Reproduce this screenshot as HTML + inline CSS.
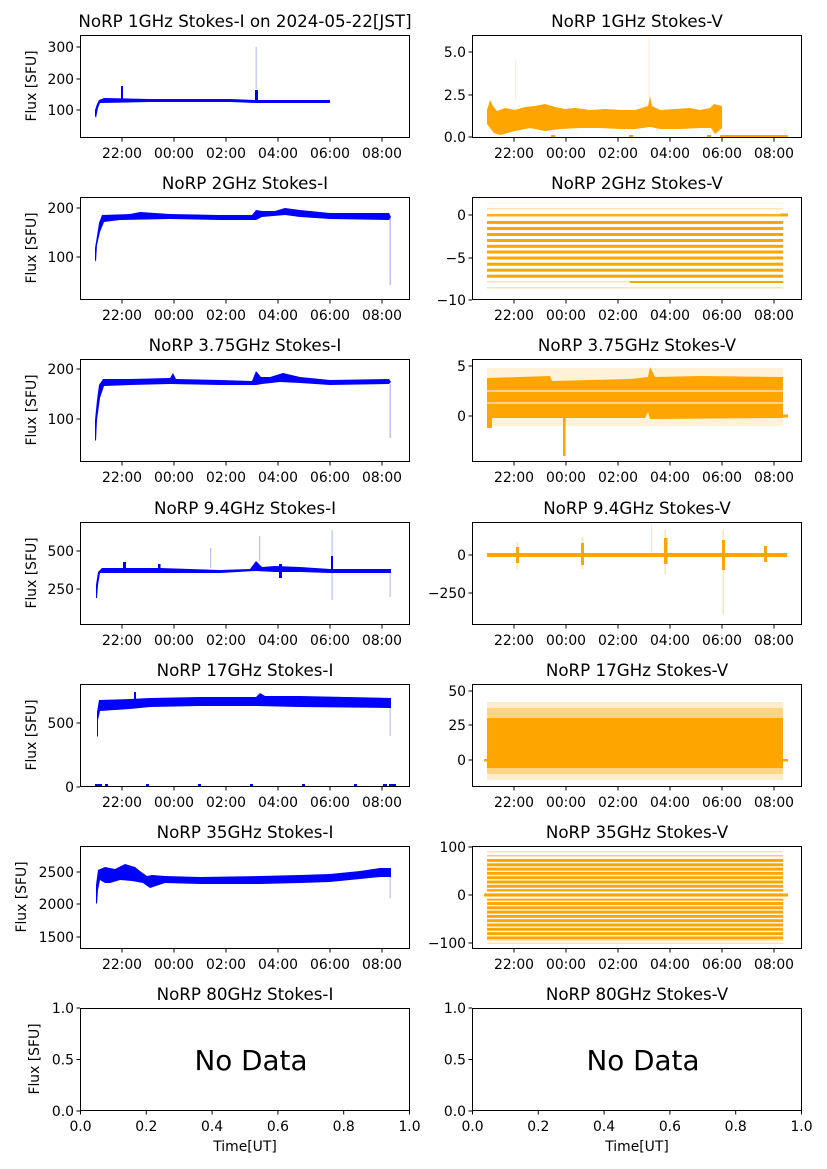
<!DOCTYPE html>
<html><head><meta charset="utf-8"><style>
html,body{margin:0;padding:0;background:#fff}
svg{display:block}
text{font-family:"DejaVu Sans","Liberation Sans",sans-serif;fill:#000}
.t{font-size:16.7px;text-anchor:middle}
.k{font-size:13.9px}
.yl{text-anchor:end}
.xl{text-anchor:middle}
.ax{fill:none;stroke:#000;stroke-width:1}
.tk{stroke:#000;stroke-width:1}
</style></head><body>
<svg width="827" height="1169" viewBox="0 0 827 1169" xmlns="http://www.w3.org/2000/svg">
<defs>
<pattern id="s35" patternUnits="userSpaceOnUse" x="0" y="859" width="10" height="4.3">
<rect x="0" y="0" width="10" height="3" fill="#ffa500"/>
</pattern>
</defs>

<!-- ===== Row 1 ===== -->
<text class="t" x="245" y="27">NoRP 1GHz Stokes-I on 2024-05-22[JST]</text>
<text class="t" x="637" y="27">NoRP 1GHz Stokes-V</text>
<g fill="#0000ff">
<path d="M95,116 L95,110 L97,104 L99,100 L104,98 L150,99 L230,99 L256,100 L330,100 L330,103 L256,103 L230,102 L150,102 L100,103 L98,108 L96,118 Z"/>
<rect x="121" y="86" width="2" height="14"/>
<rect x="255" y="90" width="3" height="10"/>
<rect x="255.5" y="47" width="1.5" height="42" opacity="0.2"/>
</g>
<g fill="#ffa500">
<path d="M487,110 L490,100 L493,106 L497,111 L505,108 L515,110 L525,107 L535,106 L545,104 L555,107 L565,109 L575,108 L590,110 L605,109 L620,110 L635,110 L648,106 L650,96 L652,106 L660,110 L675,109 L690,108 L700,110 L710,108 L714,104 L722,106 L722,128 L715,134 L711,128 L700,128 L680,129 L660,129 L650,127 L635,129 L620,129 L600,128 L580,128 L560,129 L545,131 L530,128 L515,131 L500,135 L494,133 L490,128 L487,124 Z"/>
<rect x="720" y="135" width="68" height="2.5"/>
<rect x="551" y="135" width="4" height="2.5"/><rect x="629" y="135" width="4" height="2.5"/><rect x="707" y="135" width="4" height="2.5"/>
<rect x="515" y="60" width="1.2" height="40" opacity="0.2"/>
<rect x="648.5" y="38" width="1.2" height="60" opacity="0.2"/>
</g>

<!-- ===== Row 2 ===== -->
<text class="t" x="245" y="189">NoRP 2GHz Stokes-I</text>
<text class="t" x="637" y="189">NoRP 2GHz Stokes-V</text>
<g fill="#0000ff">
<path d="M95,260 L95,248 L97,236 L99,223 L102,215 L130,214 L140,212 L170,214 L220,215 L252,215 L256,210 L262,211 L275,211 L285,208 L300,210 L330,213 L389,213 L391,217 L389,220 L330,219 L300,217 L285,215 L262,217 L256,220 L220,220 L170,219 L120,220 L104,222 L100,232 L97,245 L96,262 Z"/>
<rect x="389.5" y="218" width="1.5" height="67" opacity="0.25"/>
</g>
<g fill="#ffa500">
<rect x="487" y="214" width="296" height="2.5" opacity="0.85"/>
<rect x="487" y="221" width="296" height="3"/>
<rect x="487" y="227" width="296" height="3"/>
<rect x="487" y="233" width="296" height="3"/>
<rect x="487" y="239" width="296" height="3"/>
<rect x="487" y="244.8" width="296" height="3"/>
<rect x="487" y="250.5" width="296" height="3"/>
<rect x="487" y="256.5" width="296" height="3"/>
<rect x="487" y="262.7" width="296" height="3"/>
<rect x="487" y="268.7" width="296" height="3"/>
<rect x="487" y="274.7" width="296" height="3"/>
<rect x="630" y="281" width="153" height="2"/>
<rect x="487" y="281" width="143" height="1.5" opacity="0.3"/>
<rect x="487" y="287" width="296" height="1.5" opacity="0.3"/>
<rect x="487" y="208" width="296" height="1.5" opacity="0.3"/>
<rect x="487" y="202.5" width="296" height="1.2" opacity="0.15"/>
<rect x="780" y="213.5" width="8" height="3"/>
</g>

<!-- ===== Row 3 ===== -->
<text class="t" x="245" y="351">NoRP 3.75GHz Stokes-I</text>
<text class="t" x="637" y="351">NoRP 3.75GHz Stokes-V</text>
<g fill="#0000ff">
<path d="M95,440 L95,420 L97,400 L99,385 L103,379 L130,379 L170,378 L173,373 L176,379 L220,380 L252,381 L256,371 L261,377 L270,377 L283,373 L300,377 L330,380 L389,379 L391,382 L389,384 L330,385 L300,383 L280,382 L262,384 L256,385 L220,385 L170,384 L130,385 L104,386 L100,398 L97,420 L96,441 Z"/>
<rect x="389.5" y="384" width="1.5" height="54" opacity="0.25"/>
</g>
<g fill="#ffa500">
<rect x="487" y="368" width="296" height="58" opacity="0.15"/>
<path d="M487,378 L550,376 L552,381 L630,379 L648,377 L650,367 L655,377 L700,376 L783,377 L783,418 L650,419 L648,412 L645,418 L487,418 Z"/>
<rect x="487" y="416" width="5" height="12"/>
<rect x="563" y="416" width="2.5" height="40"/>
<rect x="783" y="414.5" width="5" height="3"/>
</g>
<rect x="487" y="390.5" width="296" height="1" fill="#fff"/>
<rect x="487" y="402.5" width="296" height="1" fill="#fff"/>

<!-- ===== Row 4 ===== -->
<text class="t" x="245" y="514">NoRP 9.4GHz Stokes-I</text>
<text class="t" x="637" y="514">NoRP 9.4GHz Stokes-V</text>
<g fill="#0000ff">
<path d="M96,598 L96,585 L98,572 L102,568 L160,568 L220,570 L250,569 L256,561 L262,567 L275,566 L300,567 L330,569 L391,569 L391,573 L330,573 L300,572 L275,572 L256,571 L220,573 L160,573 L100,573 L98,585 L97,598 Z"/>
<rect x="123" y="562" width="3" height="8"/>
<rect x="158" y="564" width="2.5" height="6"/>
<rect x="279" y="564" width="3" height="14"/>
<rect x="331" y="556" width="2" height="16"/>
<rect x="331.5" y="530" width="1.2" height="70" opacity="0.25"/>
<rect x="389.5" y="572" width="1.2" height="25" opacity="0.25"/>
<rect x="210" y="548" width="1.2" height="20" opacity="0.25"/>
<rect x="259" y="536" width="1.2" height="25" opacity="0.25"/>
</g>
<g fill="#ffa500">
<rect x="487" y="553" width="300" height="4"/>
<rect x="516" y="547" width="3" height="16"/><rect x="516.5" y="542" width="1.5" height="27" opacity="0.3"/>
<rect x="581" y="543" width="3" height="22"/><rect x="581.5" y="537" width="1.5" height="32" opacity="0.3"/>
<rect x="664" y="538" width="3.5" height="26"/><rect x="664.5" y="530" width="1.5" height="44" opacity="0.3"/>
<rect x="722" y="540" width="3" height="30"/><rect x="722.5" y="530" width="1.5" height="85" opacity="0.3"/>
<rect x="764" y="546" width="3" height="16"/>
<rect x="651" y="524" width="1.2" height="30" opacity="0.25"/>
</g>

<!-- ===== Row 5 ===== -->
<text class="t" x="245" y="676">NoRP 17GHz Stokes-I</text>
<text class="t" x="637" y="676">NoRP 17GHz Stokes-V</text>
<g fill="#0000ff">
<path d="M97,736 L97,712 L99,700 L130,699 L150,698 L200,697 L256,697 L260,693 L265,696 L300,696 L391,698 L391,708 L300,707 L256,706 L200,706 L150,707 L130,709 L100,711 L98,720 L98,737 Z"/>
<rect x="134" y="692" width="2" height="8"/>
<rect x="389.5" y="706" width="1.2" height="30" opacity="0.25"/>
<rect x="95" y="784" width="7" height="3"/><rect x="105" y="784" width="3" height="3"/>
<rect x="146" y="784" width="3" height="3"/><rect x="198" y="784" width="3" height="3"/>
<rect x="250" y="784" width="3" height="3"/><rect x="302" y="784" width="3" height="3"/>
<rect x="354" y="784" width="3" height="3"/><rect x="383" y="784" width="4" height="3"/><rect x="389" y="784" width="7" height="3"/>
</g>
<g fill="#ffa500">
<rect x="487" y="702" width="296" height="78" opacity="0.2"/>
<rect x="487" y="708" width="296" height="66" opacity="0.35"/>
<rect x="487" y="718" width="296" height="50"/>
<rect x="484" y="759" width="4" height="2.5"/><rect x="782" y="759" width="6" height="2.5"/>
</g>

<!-- ===== Row 6 ===== -->
<text class="t" x="245" y="838">NoRP 35GHz Stokes-I</text>
<text class="t" x="637" y="838">NoRP 35GHz Stokes-V</text>
<g fill="#0000ff">
<path d="M96,903 L96,885 L98,870 L105,867 L115,869 L125,864 L135,867 L140,871 L147,876 L152,875 L165,876 L200,877 L260,876 L300,875 L330,874 L360,871 L380,868 L391,868 L391,877 L380,877 L360,879 L330,882 L300,883 L260,884 L200,884 L165,883 L150,888 L143,883 L132,881 L120,880 L110,883 L105,883 L100,880 L98,890 L97,904 Z"/>
<rect x="389.5" y="876" width="1.2" height="22" opacity="0.25"/>
</g>
<g>
<rect x="487" y="859" width="296" height="82" fill="url(#s35)"/>
<rect x="487" y="851" width="296" height="1.5" fill="#ffa500" opacity="0.3"/>
<rect x="487" y="855" width="296" height="1.5" fill="#ffa500" opacity="0.6"/>
<rect x="487" y="942.5" width="296" height="1.5" fill="#ffa500" opacity="0.3"/>
<rect x="484" y="893.5" width="304" height="3" fill="#ffa500"/>
<rect x="487" y="891.5" width="296" height="1.2" fill="#fff"/>
<rect x="487" y="897.5" width="296" height="1.2" fill="#fff"/>
</g>

<!-- ===== Row 7 ===== -->
<text class="t" x="245" y="1000">NoRP 80GHz Stokes-I</text>
<text class="t" x="637" y="1000">NoRP 80GHz Stokes-V</text>
<text x="251" y="1070" style="font-size:27.8px;text-anchor:middle">No Data</text>
<text x="643" y="1070" style="font-size:27.8px;text-anchor:middle">No Data</text>

<g class="ax">
<rect x="80.5" y="35.5" width="329" height="102"/><rect x="472.5" y="35.5" width="329" height="102"/>
<rect x="80.5" y="197.5" width="329" height="102"/><rect x="472.5" y="197.5" width="329" height="102"/>
<rect x="80.5" y="359.5" width="329" height="102"/><rect x="472.5" y="359.5" width="329" height="102"/>
<rect x="80.5" y="522.5" width="329" height="102"/><rect x="472.5" y="522.5" width="329" height="102"/>
<rect x="80.5" y="684.5" width="329" height="102"/><rect x="472.5" y="684.5" width="329" height="102"/>
<rect x="80.5" y="846.5" width="329" height="102"/><rect x="472.5" y="846.5" width="329" height="102"/>
<rect x="80.5" y="1008.5" width="329" height="102"/><rect x="472.5" y="1008.5" width="329" height="102"/>
</g>

<g class="tk">
<path d="M122,138v3.5M174,138v3.5M226,138v3.5M278,138v3.5M330,138v3.5M382,138v3.5M514,138v3.5M566,138v3.5M618,138v3.5M670,138v3.5M722,138v3.5M774,138v3.5"/>
<path d="M122,300v3.5M174,300v3.5M226,300v3.5M278,300v3.5M330,300v3.5M382,300v3.5M514,300v3.5M566,300v3.5M618,300v3.5M670,300v3.5M722,300v3.5M774,300v3.5"/>
<path d="M122,462v3.5M174,462v3.5M226,462v3.5M278,462v3.5M330,462v3.5M382,462v3.5M514,462v3.5M566,462v3.5M618,462v3.5M670,462v3.5M722,462v3.5M774,462v3.5"/>
<path d="M122,625v3.5M174,625v3.5M226,625v3.5M278,625v3.5M330,625v3.5M382,625v3.5M514,625v3.5M566,625v3.5M618,625v3.5M670,625v3.5M722,625v3.5M774,625v3.5"/>
<path d="M122,787v3.5M174,787v3.5M226,787v3.5M278,787v3.5M330,787v3.5M382,787v3.5M514,787v3.5M566,787v3.5M618,787v3.5M670,787v3.5M722,787v3.5M774,787v3.5"/>
<path d="M122,949v3.5M174,949v3.5M226,949v3.5M278,949v3.5M330,949v3.5M382,949v3.5M514,949v3.5M566,949v3.5M618,949v3.5M670,949v3.5M722,949v3.5M774,949v3.5"/>
<path d="M80.5,1111v3.5M146.3,1111v3.5M212.1,1111v3.5M277.9,1111v3.5M343.7,1111v3.5M409.5,1111v3.5M472.5,1111v3.5M538.3,1111v3.5M604.1,1111v3.5M669.9,1111v3.5M735.7,1111v3.5M801.5,1111v3.5"/>
</g>
<g class="k xl">
<g id="xr1">
<text x="122" y="158">22:00</text><text x="174" y="158">00:00</text><text x="226" y="158">02:00</text><text x="278" y="158">04:00</text><text x="330" y="158">06:00</text><text x="382" y="158">08:00</text>
<text x="514" y="158">22:00</text><text x="566" y="158">00:00</text><text x="618" y="158">02:00</text><text x="670" y="158">04:00</text><text x="722" y="158">06:00</text><text x="774" y="158">08:00</text>
</g>
<use href="#xr1" y="162"/>
<use href="#xr1" y="324"/>
<use href="#xr1" y="487"/>
<use href="#xr1" y="649"/>
<use href="#xr1" y="811"/>
<text x="80.5" y="1131">0.0</text><text x="146.3" y="1131">0.2</text><text x="212.1" y="1131">0.4</text><text x="277.9" y="1131">0.6</text><text x="343.7" y="1131">0.8</text><text x="409.5" y="1131">1.0</text>
<text x="472.5" y="1131">0.0</text><text x="538.3" y="1131">0.2</text><text x="604.1" y="1131">0.4</text><text x="669.9" y="1131">0.6</text><text x="735.7" y="1131">0.8</text><text x="801.5" y="1131">1.0</text>
<text x="245" y="1151">Time[UT]</text><text x="637" y="1151">Time[UT]</text>
</g>

<g class="tk">
<path d="M80,47h-3.5M80,79h-3.5M80,110h-3.5 M472,52h-3.5M472,95h-3.5M472,137h-3.5"/>
<path d="M80,208h-3.5M80,257h-3.5 M472,215h-3.5M472,258h-3.5M472,300h-3.5"/>
<path d="M80,369h-3.5M80,419h-3.5 M472,366h-3.5M472,416h-3.5"/>
<path d="M80,551h-3.5M80,589h-3.5 M472,555h-3.5M472,593h-3.5"/>
<path d="M80,723h-3.5M80,787h-3.5 M472,691h-3.5M472,725h-3.5M472,760h-3.5"/>
<path d="M80,872h-3.5M80,904h-3.5M80,937h-3.5 M472,847h-3.5M472,895h-3.5M472,943h-3.5"/>
<path d="M80,1008h-3.5M80,1059.5h-3.5M80,1111h-3.5 M472,1008h-3.5M472,1059.5h-3.5M472,1111h-3.5"/>
</g>
<g class="k yl">
<text x="74" y="52">300</text><text x="74" y="84">200</text><text x="74" y="115">100</text>
<text x="466" y="57">5.0</text><text x="466" y="100">2.5</text><text x="466" y="142">0.0</text>
<text x="74" y="213">200</text><text x="74" y="262">100</text>
<text x="466" y="220">0</text><text x="466" y="263">−5</text><text x="466" y="305">−10</text>
<text x="74" y="374">200</text><text x="74" y="424">100</text>
<text x="466" y="371">5</text><text x="466" y="421">0</text>
<text x="74" y="556">500</text><text x="74" y="594">250</text>
<text x="466" y="560">0</text><text x="466" y="598">−250</text>
<text x="74" y="728">500</text><text x="74" y="792">0</text>
<text x="466" y="696">50</text><text x="466" y="730">25</text><text x="466" y="765">0</text>
<text x="74" y="877">2500</text><text x="74" y="909">2000</text><text x="74" y="942">1500</text>
<text x="466" y="852">100</text><text x="466" y="900">0</text><text x="466" y="948">−100</text>
<text x="74" y="1013">1.0</text><text x="74" y="1064.5">0.5</text><text x="74" y="1116">0.0</text>
<text x="466" y="1013">1.0</text><text x="466" y="1064.5">0.5</text><text x="466" y="1116">0.0</text>
</g>
<g class="k" style="text-anchor:middle">
<text transform="translate(36,86) rotate(-90)">Flux [SFU]</text>
<text transform="translate(36,248) rotate(-90)">Flux [SFU]</text>
<text transform="translate(36,410) rotate(-90)">Flux [SFU]</text>
<text transform="translate(36,573) rotate(-90)">Flux [SFU]</text>
<text transform="translate(36,735) rotate(-90)">Flux [SFU]</text>
<text transform="translate(26,897) rotate(-90)">Flux [SFU]</text>
<text transform="translate(39,1059) rotate(-90)">Flux [SFU]</text>
</g>
</svg>
</body></html>
